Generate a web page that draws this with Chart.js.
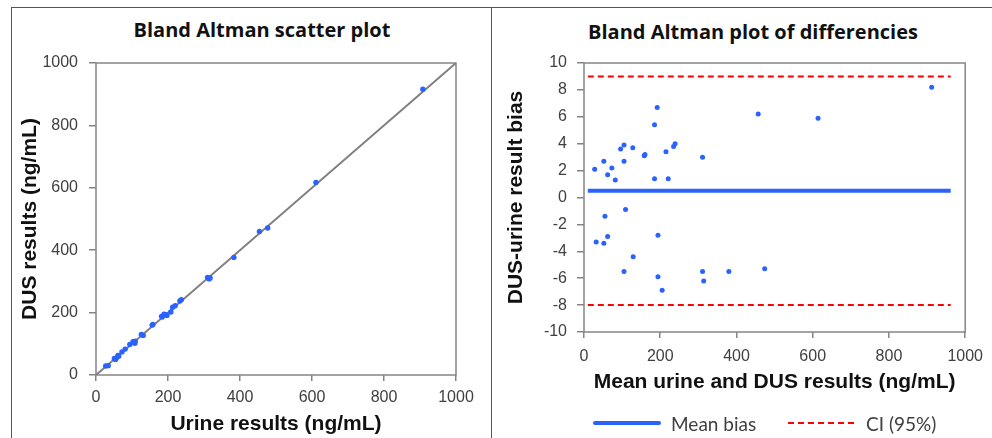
<!DOCTYPE html>
<html>
<head>
<meta charset="utf-8">
<script src="https://cdn.jsdelivr.net/npm/chart.js@4.4.1/dist/chart.umd.min.js"></script>
<style>
  body { margin: 0; background: #fff; width: 992px; height: 438px; overflow: hidden; position: relative; }
  canvas { position: absolute; top: 0; }
  #scatterChart { left: 0; }
  #diffChart { left: 492px; }
  .panel-line { position: absolute; background: #555; z-index: 2; }
  .chart-title { position: absolute; font: bold 20px "Open Sans", sans-serif; color: #111; white-space: nowrap; transform: translate(-50%, -50%); }
  .legend-line { position: absolute; }
  .legend-text { position: absolute; font: 19px Lato, sans-serif; color: #404040; transform: translateY(-50%); white-space: nowrap; }
</style>
</head>
<body>
<div class="panel-line" style="left:11px;top:7px;width:981px;height:1px"></div>
<div class="panel-line" style="left:11px;top:7px;width:1px;height:431px"></div>
<div class="panel-line" style="left:491px;top:7px;width:1px;height:431px"></div>

<div class="chart-title" style="left:262px;top:29px">Bland Altman scatter plot</div>
<div class="chart-title" style="left:753px;top:31px">Bland Altman plot of differencies</div>

<canvas id="scatterChart" width="491" height="438"></canvas>
<canvas id="diffChart" width="500" height="438"></canvas>

<div class="legend-line" style="left:593px;top:421px;width:68px;height:4px;background:#2962ff;border-radius:2px"></div>
<div class="legend-text" style="left:671px;top:423px">Mean bias</div>
<div class="legend-line" style="left:788px;top:422px;width:68px;height:2px;background:repeating-linear-gradient(90deg,#ff0000 0 6px,transparent 6px 10px)"></div>
<div class="legend-text" style="left:866px;top:423px">CI (95%)</div>

<script>
// Left chart: urine vs DUS results (ng/mL)
const urineResults = [27, 34, 51, 54, 56, 61, 63, 72, 81, 94, 104, 103, 108, 109, 126, 131, 156, 158, 182, 184,
  189, 195, 197, 208, 213, 220, 233, 237, 310, 314, 317, 383, 454, 477, 611, 908];
const dusResults = [29, 30, 53, 50, 54, 63, 60, 74, 83, 98, 106, 107, 102, 108, 130, 127, 160, 162, 188, 186,
  195, 193, 191, 202, 217, 222, 237, 241, 313, 308, 311, 377, 460, 471, 617, 916];
const identityX = [0, 1000];

// Right chart: mean of both methods vs difference
const meanResults = [28, 32, 52, 52, 55, 62, 62, 73, 82, 96, 105, 105, 105, 109, 128, 129, 158, 160, 185, 185,
  192, 194, 194, 205, 215, 221, 235, 239, 311, 311, 314, 380, 457, 474, 614, 912];
const biasDiffs = [2.1, -3.3, 2.7, -3.4, -1.4, 1.7, -2.9, 2.2, 1.3, 3.6, 2.7, 3.9, -5.5, -0.9, 3.7, -4.4, 3.1, 3.2, 5.4, 1.4,
  6.7, -2.8, -5.9, -6.9, 3.4, 1.4, 3.8, 4.0, 3.0, -5.5, -6.2, -5.5, 6.2, -5.3, 5.9, 8.2];
const meanBias = 0.5;
const ciUpper = 9;
const ciLower = -8;
const refLineX = [10, 962];

const xTickRange = [0, 1000, 200];
const yTickRangeLeft = [0, 1000, 200];
const yTickRangeRight = [-10, 10, 2];

const dotColor = '#2962ff';
const tickFont = { family: 'Liberation Sans, Arial, sans-serif', size: 16 };
const axisTitleFont = { family: 'Liberation Sans, Arial, sans-serif', size: 21, weight: 'bold' };

// draws the grey box round the plot area
const framePlugin = {
  id: 'frame',
  beforeDatasetsDraw(chart) {
    const { ctx, chartArea } = chart;
    ctx.save();
    ctx.strokeStyle = '#858585';
    ctx.lineWidth = 1.5;
    ctx.strokeRect(chartArea.left, chartArea.top, chartArea.right - chartArea.left, chartArea.bottom - chartArea.top);
    ctx.restore();
  }
};

function makeAxis(range, titleText, titlePad, tickLen, tickPad, fitSize, horizontal) {
  return {
    type: 'linear',
    min: range[0],
    max: range[1],
    ticks: {
      stepSize: range[2],
      font: tickFont,
      color: '#404040',
      padding: tickPad,
      callback: value => String(value)
    },
    grid: { drawOnChartArea: false, drawTicks: true, tickLength: tickLen, tickColor: '#858585', lineWidth: 1.5 },
    border: { display: false },
    title: { display: true, text: titleText, font: axisTitleFont, color: '#111', padding: titlePad },
    afterFit: function(scale) {
      if (horizontal) scale.height = fitSize; else scale.width = fitSize;
    }
  };
}

new Chart(document.getElementById('scatterChart').getContext('2d'), {
  type: 'scatter',
  data: {
    datasets: [
      {
        label: 'Results',
        data: urineResults.map((u, i) => ({ x: u, y: dusResults[i] })),
        backgroundColor: dotColor,
        borderWidth: 0,
        pointRadius: 2.7
      },
      {
        type: 'line',
        label: 'Identity',
        data: identityX.map(v => ({ x: v, y: v })),
        borderColor: '#7f7f7f',
        borderWidth: 2,
        pointRadius: 0
      }
    ]
  },
  options: {
    responsive: false,
    animation: false,
    layout: { padding: { left: 12, right: 35, top: 63, bottom: 0 } },
    scales: {
      x: makeAxis(xTickRange, 'Urine results (ng/mL)', { top: 0, bottom: 1 }, 6, 7, 63, true),
      y: makeAxis(yTickRangeLeft, 'DUS results (ng/mL)', { top: 5.5, bottom: 0 }, 7, 11, 84, false)
    },
    plugins: { legend: { display: false }, tooltip: { enabled: false } }
  },
  plugins: [framePlugin]
});

new Chart(document.getElementById('diffChart').getContext('2d'), {
  type: 'scatter',
  data: {
    datasets: [
      {
        label: 'Differences',
        data: meanResults.map((m, i) => ({ x: m, y: biasDiffs[i] })),
        backgroundColor: dotColor,
        borderWidth: 0,
        pointRadius: 2.5
      },
      {
        type: 'line',
        label: 'Mean bias',
        data: refLineX.map(v => ({ x: v, y: meanBias })),
        borderColor: dotColor,
        borderWidth: 4,
        pointRadius: 0
      },
      {
        type: 'line',
        label: 'CI (95%)',
        data: refLineX.map(v => ({ x: v, y: ciUpper })),
        borderColor: '#ff0000',
        borderWidth: 2,
        borderDash: [6, 4],
        pointRadius: 0
      },
      {
        type: 'line',
        label: 'CI lower',
        data: refLineX.map(v => ({ x: v, y: ciLower })),
        borderColor: '#ff0000',
        borderWidth: 2,
        borderDash: [6, 4],
        pointRadius: 0
      }
    ]
  },
  options: {
    responsive: false,
    animation: false,
    layout: { padding: { left: 6, right: 22, top: 63, bottom: 38 } },
    scales: {
      x: makeAxis(xTickRange, 'Mean urine and DUS results (ng/mL)', { top: 0, bottom: 5 }, 6, 9, 68, true),
      y: makeAxis(yTickRangeRight, 'DUS-urine result bias', { top: 5.5, bottom: 0 }, 7, 10, 86, false)
    },
    plugins: { legend: { display: false }, tooltip: { enabled: false } }
  },
  plugins: [framePlugin]
});
</script>
</body>
</html>
